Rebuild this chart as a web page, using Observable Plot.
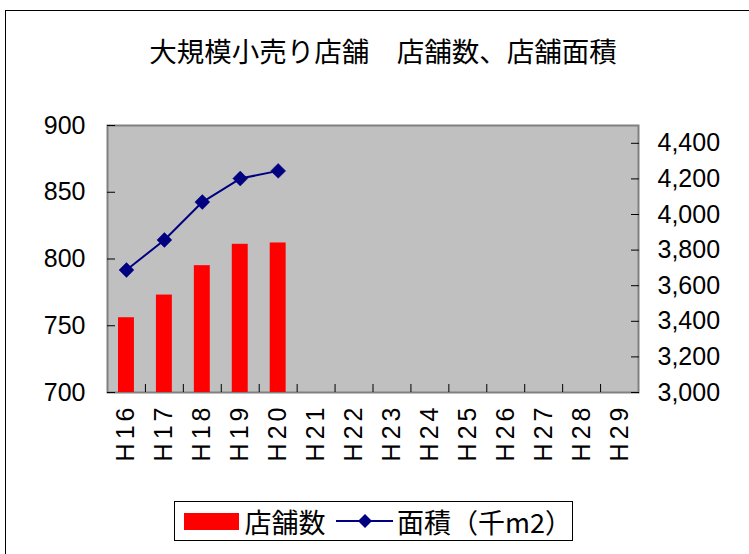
<!DOCTYPE html>
<html><head><meta charset="utf-8">
<script src="https://cdn.jsdelivr.net/npm/d3@7"></script>
<script src="https://cdn.jsdelivr.net/npm/@observablehq/plot@0.6"></script>
<style>
body{margin:0;background:#fff;overflow:hidden;}
#wrap{position:relative;width:749px;height:554px;overflow:hidden;background:#fff;}
#border{position:absolute;left:5px;top:10px;width:800px;height:600px;border:1px solid #000;}
#title{position:absolute;left:0;width:766px;top:31px;text-align:center;font-family:"Noto Sans CJK JP";font-size:27.5px;font-weight:400;line-height:38px;color:#000;white-space:pre;}
#chart{position:absolute;left:0;top:0;}
#legend{position:absolute;left:174px;top:501px;width:397px;height:38px;border:1px solid #000;background:#fff;font-family:"Noto Sans CJK JP";font-size:27px;display:flex;align-items:center;color:#000;white-space:nowrap;}
#chart g[aria-label="x-axis tick label"] text{letter-spacing:4px;}
</style>
</head><body>
<div id="wrap">
  <div id="border"></div>
  <div id="chart"></div>
  <div id="title"></div>
  <div id="legend"></div>
</div>
<script>
const titleText = "大規模小売り店舗　店舗数、店舗面積";
const categories = ["H16","H17","H18","H19","H20","H21","H22","H23","H24","H25","H26","H27","H28","H29"];
const seriesNames = ["店舗数", "面積（千m2）"];
const storeCounts = [756, 773, 795, 811, 812];
const floorArea = [3688, 3857, 4070, 4202, 4245];
const leftTicks = [700, 750, 800, 850, 900];
const rightTicks = [3000, 3200, 3400, 3600, 3800, 4000, 4200, 4400];
const leftDomain = [700, 900];
const rightDomain = [3000, 4500];

const barColor = "#ff0000", lineColor = "#000080";
const toLeft = v => leftDomain[0] + (v - rightDomain[0]) * (leftDomain[1] - leftDomain[0]) / (rightDomain[1] - rightDomain[0]);
const fromLeft = v => rightDomain[0] + (v - leftDomain[0]) * (rightDomain[1] - rightDomain[0]) / (leftDomain[1] - leftDomain[0]);

const bars = storeCounts.map((v, i) => ({cat: categories[i], v}));
const area = floorArea.map((v, i) => ({cat: categories[i], v, yl: toLeft(v)}));

const W = 749, H = 554, mL = 107, mR = 111, mT = 125, mB = 162;
const plotH = H - mT - mB;
const step = (W - mL - mR) / categories.length;

const chart = Plot.plot({
  width: W, height: H,
  marginLeft: mL, marginRight: mR, marginTop: mT, marginBottom: mB,
  style: {fontFamily: "'Liberation Sans', Arial, sans-serif", fontSize: "25px", color: "#000", background: "transparent", overflow: "visible"},
  x: {type: "band", domain: categories, paddingInner: 0.58, paddingOuter: 0.29, round: false},
  y: {domain: leftDomain},
  marks: [
    Plot.frame({fill: "#c0c0c0", stroke: "#808080", strokeWidth: 2}),
    Plot.barY(bars, {x: "cat", y1: leftDomain[0], y2: "v", fill: barColor}),
    Plot.line(area, {x: "cat", y: "yl", stroke: lineColor, strokeWidth: 2}),
    Plot.dot(area, {x: "cat", y: "yl", symbol: "diamond2", r: 6.7, fill: lineColor, stroke: lineColor, strokeWidth: 0.5}),
    Plot.tickX(categories.slice(1), {x: d => d, dx: -step / 2, insetTop: plotH - 8, stroke: "#000"}),
    Plot.axisY(leftTicks, {anchor: "left", tickSize: -8, tickPadding: 30, line: true, label: null}),
    Plot.axisY(rightTicks.map(toLeft), {anchor: "right", tickSize: -8, tickPadding: 27, line: true, label: null,
      tickFormat: d => d3.format(",")(Math.round(fromLeft(d)))}),
    Plot.axisX({tickSize: 0, tickPadding: 11, tickRotate: -90, line: true, label: null})
  ]
});
document.getElementById("chart").appendChild(chart);
document.getElementById("title").textContent = titleText;

// legend
const lg = document.getElementById("legend");
const sw = document.createElement("span");
sw.style.cssText = `display:inline-block;width:55px;height:17px;background:${barColor};margin-left:9px;`;
lg.appendChild(sw);
const t1 = document.createElement("span");
t1.textContent = seriesNames[0];
t1.style.marginLeft = "6px";
lg.appendChild(t1);
const ns = "http://www.w3.org/2000/svg";
const ls = document.createElementNS(ns, "svg");
ls.setAttribute("width", 58); ls.setAttribute("height", 20);
ls.style.marginLeft = "10px";
ls.innerHTML = `<line x1="0" y1="10" x2="58" y2="10" stroke="${lineColor}" stroke-width="2"/><path d="M29,3 L36,10 L29,17 L22,10 Z" fill="${lineColor}"/>`;
lg.appendChild(ls);
const t2 = document.createElement("span");
t2.textContent = seriesNames[1];
t2.style.marginLeft = "4px";
lg.appendChild(t2);
</script>
</body></html>
